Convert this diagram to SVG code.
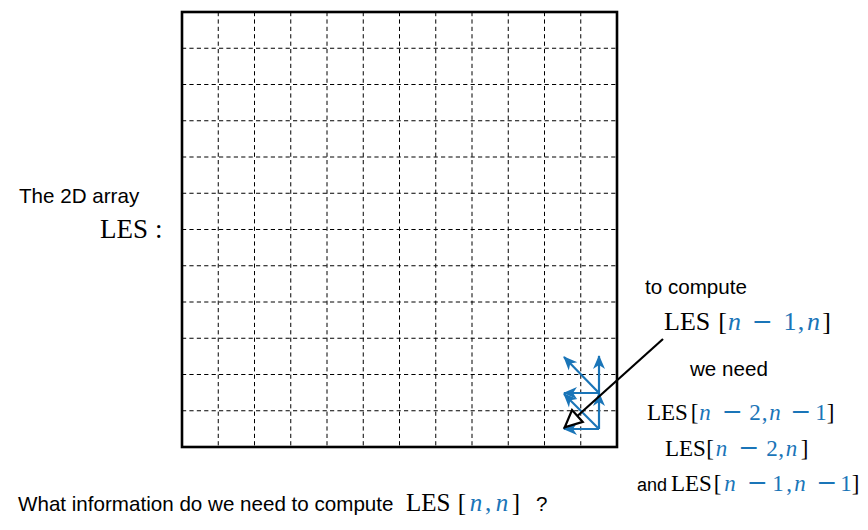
<svg xmlns="http://www.w3.org/2000/svg" width="868" height="530" viewBox="0 0 868 530">
<style>
.sans{font-family:"Liberation Sans",Arial,sans-serif;font-size:20.6px;fill:#000}
.rm{font-family:"Liberation Serif","Times New Roman",serif;fill:#000}
.m{font-family:"Liberation Serif","Times New Roman",serif;fill:#1a75b8;text-anchor:middle}
.mi{font-style:italic}
.mn{font-family:"DejaVu Serif",serif;font-size:25px}
.br{fill:#000}
.s26{font-size:26px}
.s23{font-size:23px}
.s25{font-size:25px}
.grid{stroke:#000;stroke-width:1;stroke-dasharray:4.2 3.2;fill:none}
.blue{stroke:#1a75b8;stroke-width:2.2;fill:none;marker-end:url(#bh)}
</style>
<defs>
<marker id="bh" markerUnits="userSpaceOnUse" markerWidth="16" markerHeight="14" refX="13" refY="6" orient="auto" viewBox="0 0 16 12">
<path d="M0,0 L14,6 L0,12 L4,6 Z" fill="#1a75b8"/>
</marker>
<marker id="kh" markerUnits="userSpaceOnUse" markerWidth="22" markerHeight="20" refX="18" refY="8" orient="auto" viewBox="-2 -2 22 20">
<path d="M0,0 L17,8 L0,16 Z" fill="#fff" stroke="#000" stroke-width="2.2" stroke-linejoin="miter"/>
</marker>
</defs>
<g id="array">
<g class="grid">
<path d="M218.25,12V447M254.5,12V447M290.75,12V447M327,12V447M363.25,12V447M399.5,12V447M435.75,12V447M472,12V447M508.25,12V447M544.5,12V447M580.75,12V447"/>
<path d="M182,48.25H617M182,84.5H617M182,120.75H617M182,157H617M182,193.25H617M182,229.5H617M182,265.75H617M182,302H617M182,338.25H617M182,374.5H617M182,410.75H617"/>
</g>
<rect x="182" y="12" width="435" height="435" fill="none" stroke="#000" stroke-width="2.6"/>
</g>
<g id="connectors">
<line class="blue" x1="599" y1="429" x2="564" y2="429"/>
<line class="blue" x1="599" y1="429" x2="599" y2="393"/>
<line class="blue" x1="599" y1="429" x2="564" y2="394"/>
<line class="blue" x1="599" y1="393" x2="564" y2="393"/>
<line class="blue" x1="599" y1="393" x2="599" y2="356"/>
<line class="blue" x1="599" y1="393" x2="564" y2="357"/>
<line x1="663" y1="339" x2="564" y2="428" stroke="#000" stroke-width="2.2" marker-end="url(#kh)"/>
</g>
<g id="label-array">
<text class="sans" x="19" y="203">The 2D array</text>
<text class="rm" style="font-size:27px" x="100" y="238">LES<tspan x="155">:</tspan></text>
</g>
<g id="label-compute">
<text class="sans" x="645" y="294">to compute</text>
<text class="rm s26" x="664" y="330">LES</text>
<text class="m s26" y="330"><tspan class="br" x="722.5">[</tspan><tspan class="mi" x="734.5">n</tspan><tspan class="mn" x="762.5">−</tspan><tspan x="790">1</tspan><tspan x="801">,</tspan><tspan class="mi" x="813.5">n</tspan><tspan class="br" x="826.5">]</tspan></text>
</g>
<g id="label-need">
<text class="sans" x="690" y="376">we need</text>
<text class="rm s23" x="647" y="419.5">LES</text>
<text class="m s23" y="419.5"><tspan class="br" x="694.5">[</tspan><tspan class="mi" x="705">n</tspan><tspan class="mn" x="732.5">−</tspan><tspan x="755">2</tspan><tspan x="764.5">,</tspan><tspan class="mi" x="775">n</tspan><tspan class="mn" x="801">−</tspan><tspan x="821">1</tspan><tspan class="br" x="830.5">]</tspan></text>
<text class="rm s23" x="665" y="456">LES</text>
<text class="m s23" y="456"><tspan class="br" x="710">[</tspan><tspan class="mi" x="721.5">n</tspan><tspan class="mn" x="749">−</tspan><tspan x="772">2</tspan><tspan x="781">,</tspan><tspan class="mi" x="791.5">n</tspan><tspan class="br" x="804.5">]</tspan></text>
<text class="sans" style="font-size:18px" x="637" y="491">and</text>
<text class="rm s23" x="671" y="491">LES</text>
<text class="m s23" y="491"><tspan class="br" x="717.5">[</tspan><tspan class="mi" x="730">n</tspan><tspan class="mn" x="757.5">−</tspan><tspan x="778">1</tspan><tspan x="789">,</tspan><tspan class="mi" x="800">n</tspan><tspan class="mn" x="827">−</tspan><tspan x="846">1</tspan><tspan class="br" x="855.5">]</tspan></text>
</g>
<g id="label-question">
<text class="sans" x="18" y="511">What information do we need to compute</text>
<text class="rm s25" x="406" y="511">LES</text>
<text class="m s25" y="511"><tspan class="br" x="462">[</tspan><tspan class="mi" x="476">n</tspan><tspan x="488">,</tspan><tspan class="mi" x="502">n</tspan><tspan class="br" x="516">]</tspan></text>
<text class="sans" x="536" y="511">?</text>
</g>
</svg>
